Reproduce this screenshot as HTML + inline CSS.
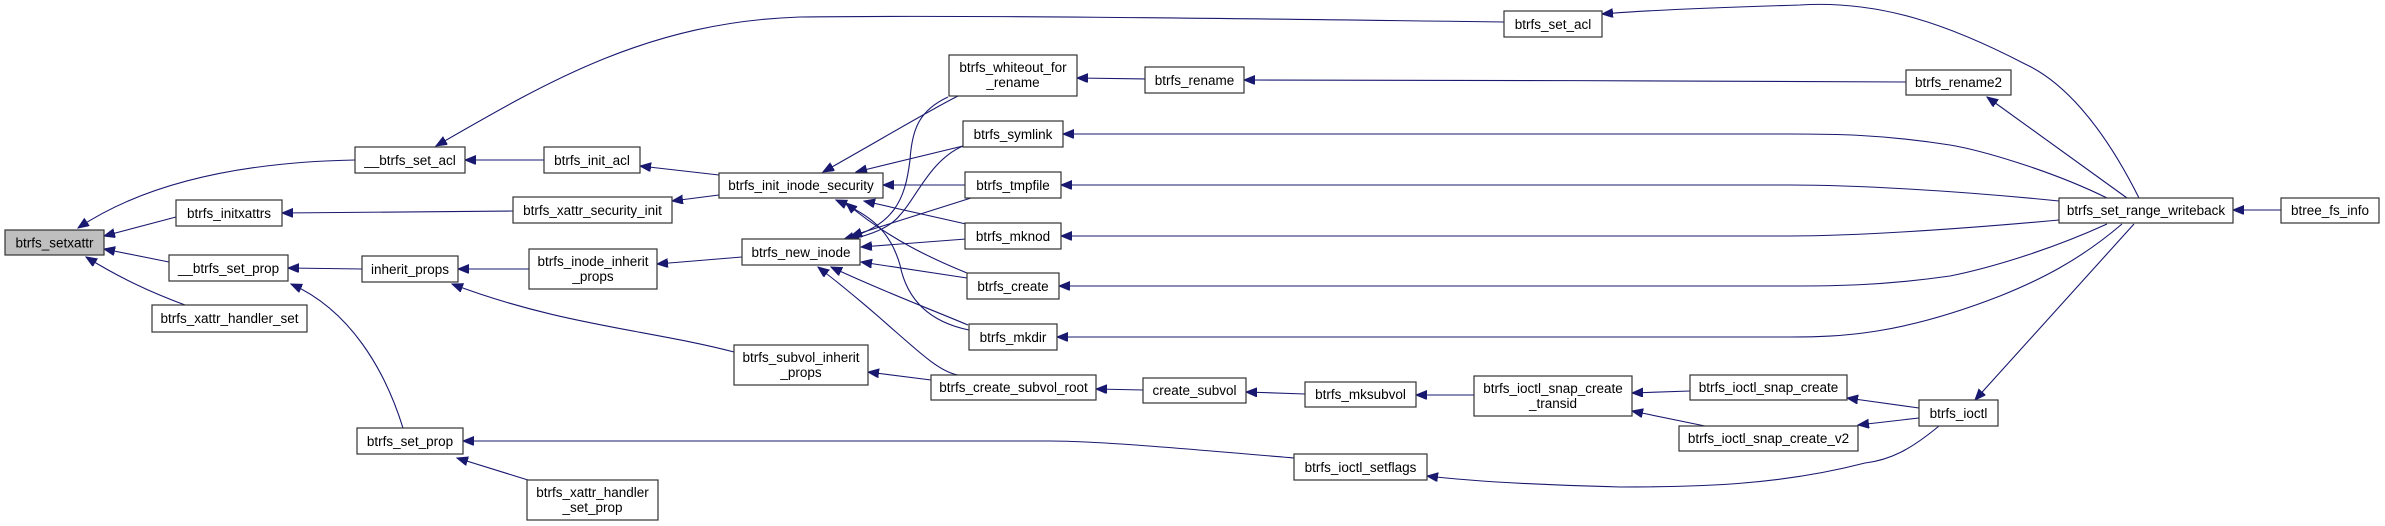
<!DOCTYPE html>
<html><head><meta charset="utf-8"><style>
html,body{margin:0;padding:0;background:#fff;}
svg{display:block;}
text{font-family:"Liberation Sans",sans-serif;font-size:13.5px;fill:#000;text-anchor:middle;}
.n{fill:#fff;stroke:#333;stroke-width:1.2;}
.e{fill:none;stroke:#191970;stroke-width:1.1;marker-end:url(#a);}
</style></head><body>
<svg width="2385" height="526" viewBox="0 0 2385 526" xmlns="http://www.w3.org/2000/svg">
<defs><marker id="a" markerUnits="userSpaceOnUse" markerWidth="12" markerHeight="10" refX="11" refY="4.5" orient="auto"><path d="M0,0 L11,4.5 L0,9 z" fill="#191970" stroke="#191970"/></marker></defs>
<g>
<path class="e" d="M355,160 C250,162 150,180 78,228"/>
<path class="e" d="M176,217 L104,236"/>
<path class="e" d="M169,262 L104,249"/>
<path class="e" d="M185,305 C150,292 120,278 86,257"/>
<path class="e" d="M544,160 L465,160"/>
<path class="e" d="M1504,22 C1200,18 950,15 800,17 C650,22 550,80 436,146"/>
<path class="e" d="M513,211 L282,213"/>
<path class="e" d="M719,175 L640,166"/>
<path class="e" d="M719,195 L672,201"/>
<path class="e" d="M362,269 L288,268"/>
<path class="e" d="M403,428 C385,370 350,310 291,284"/>
<path class="e" d="M529,269 L458,269"/>
<path class="e" d="M734,352 C650,330 560,325 452,284"/>
<path class="e" d="M742,257 L657,264"/>
<path class="e" d="M931,380 L868,372"/>
<path class="e" d="M958,375 C930,370 900,330 818,267"/>
<path class="e" d="M958,96 C930,110 880,140 823,172"/>
<path class="e" d="M948,97 C920,110 912,128 910,160 C905,200 895,225 843,240"/>
<path class="e" d="M963,146 L856,172"/>
<path class="e" d="M963,146 C930,160 915,200 900,215 C890,228 870,235 848,240"/>
<path class="e" d="M965,185 L883,185"/>
<path class="e" d="M971,198 L851,236"/>
<path class="e" d="M966,224 L864,201"/>
<path class="e" d="M966,239 L861,247"/>
<path class="e" d="M967,273 C935,260 890,240 846,203"/>
<path class="e" d="M967,278 L861,262"/>
<path class="e" d="M969,330 C920,320 905,290 900,265 C890,230 870,215 836,200"/>
<path class="e" d="M968,325 C920,305 880,290 831,267"/>
<path class="e" d="M1145,79 L1077,78"/>
<path class="e" d="M1906,82 C1700,81 1450,80 1244,80"/>
<path class="e" d="M2139,198 C2100,120 2060,80 2025,64 C1950,25 1880,0 1800,5 C1730,7 1650,10 1602,14"/>
<path class="e" d="M2127,198 L1987,97"/>
<path class="e" d="M2107,198 C2050,170 1980,150 1950,145 C1880,134 1830,134 1790,134 L1063,134"/>
<path class="e" d="M2059,201 C1950,190 1850,185 1790,185 L1061,185"/>
<path class="e" d="M2059,220 C1950,230 1850,236 1790,236 L1061,236"/>
<path class="e" d="M2107,224 C2050,250 1990,268 1950,276 C1880,286 1830,286 1790,286 L1059,286"/>
<path class="e" d="M2122,224 C2080,260 2040,280 2000,296 C1900,335 1840,337 1790,337 L1057,337"/>
<path class="e" d="M2134,224 L1975,400"/>
<path class="e" d="M2281,210 L2233,210"/>
<path class="e" d="M1143,390 L1096,389"/>
<path class="e" d="M1305,394 L1246,392"/>
<path class="e" d="M1474,395 L1416,395"/>
<path class="e" d="M1690,391 L1632,393"/>
<path class="e" d="M1705,426 L1632,411"/>
<path class="e" d="M1919,408 L1847,398"/>
<path class="e" d="M1919,418 L1858,425"/>
<path class="e" d="M1939,426 C1910,450 1890,460 1865,463 C1780,485 1700,487 1620,487 C1540,485 1470,481 1427,476"/>
<path class="e" d="M1294,458 C1200,450 1100,441 1050,441 L463,441"/>
<path class="e" d="M528,480 L457,458"/>
</g>
<g>
<rect x="5" y="230" width="99" height="25" fill="#bfbfbf" stroke="#333" stroke-width="1.2"/><text x="54.5" y="247.5">btrfs_setxattr</text>
<rect class="n" x="355" y="147" width="110" height="26"/><text x="410" y="165">__btrfs_set_acl</text>
<rect class="n" x="544" y="147" width="96" height="26"/><text x="592" y="165">btrfs_init_acl</text>
<rect class="n" x="719" y="173" width="164" height="25"/><text x="801" y="190">btrfs_init_inode_security</text>
<rect class="n" x="176" y="200" width="106" height="26"/><text x="229" y="218">btrfs_initxattrs</text>
<rect class="n" x="513" y="197" width="159" height="26"/><text x="592.5" y="215">btrfs_xattr_security_init</text>
<rect class="n" x="169" y="255" width="119" height="26"/><text x="228.5" y="273">__btrfs_set_prop</text>
<rect class="n" x="152" y="305" width="155" height="27"/><text x="229.5" y="323">btrfs_xattr_handler_set</text>
<rect class="n" x="362" y="256" width="96" height="26"/><text x="410" y="274">inherit_props</text>
<rect class="n" x="529" y="249" width="128" height="40"/><text x="593" y="266">btrfs_inode_inherit</text><text x="593" y="281">_props</text>
<rect class="n" x="742" y="239" width="118" height="26"/><text x="801" y="257">btrfs_new_inode</text>
<rect class="n" x="734" y="345" width="134" height="40"/><text x="801" y="362">btrfs_subvol_inherit</text><text x="801" y="377">_props</text>
<rect class="n" x="357" y="428" width="106" height="26"/><text x="410" y="446">btrfs_set_prop</text>
<rect class="n" x="527" y="480" width="131" height="40"/><text x="592.5" y="497">btrfs_xattr_handler</text><text x="592.5" y="512">_set_prop</text>
<rect class="n" x="1504" y="11" width="98" height="26"/><text x="1553" y="29">btrfs_set_acl</text>
<rect class="n" x="949" y="55" width="128" height="41"/><text x="1013" y="72">btrfs_whiteout_for</text><text x="1013" y="87">_rename</text>
<rect class="n" x="1145" y="67" width="99" height="26"/><text x="1194.5" y="85">btrfs_rename</text>
<rect class="n" x="963" y="121" width="100" height="26"/><text x="1013" y="139">btrfs_symlink</text>
<rect class="n" x="965" y="172" width="96" height="26"/><text x="1013" y="190">btrfs_tmpfile</text>
<rect class="n" x="965" y="223" width="96" height="26"/><text x="1013" y="241">btrfs_mknod</text>
<rect class="n" x="967" y="273" width="92" height="26"/><text x="1013" y="291">btrfs_create</text>
<rect class="n" x="969" y="324" width="88" height="26"/><text x="1013" y="342">btrfs_mkdir</text>
<rect class="n" x="931" y="375" width="165" height="25"/><text x="1013.5" y="392">btrfs_create_subvol_root</text>
<rect class="n" x="1143" y="378" width="103" height="25"/><text x="1194.5" y="395">create_subvol</text>
<rect class="n" x="1305" y="382" width="111" height="25"/><text x="1360.5" y="399">btrfs_mksubvol</text>
<rect class="n" x="1474" y="376" width="158" height="40"/><text x="1553" y="393">btrfs_ioctl_snap_create</text><text x="1553" y="408">_transid</text>
<rect class="n" x="1294" y="454" width="133" height="26"/><text x="1360.5" y="472">btrfs_ioctl_setflags</text>
<rect class="n" x="1906" y="70" width="105" height="25"/><text x="1958.5" y="87">btrfs_rename2</text>
<rect class="n" x="2059" y="198" width="174" height="25"/><text x="2146" y="215">btrfs_set_range_writeback</text>
<rect class="n" x="2281" y="198" width="98" height="25"/><text x="2330" y="215">btree_fs_info</text>
<rect class="n" x="1690" y="375" width="157" height="25"/><text x="1768.5" y="392">btrfs_ioctl_snap_create</text>
<rect class="n" x="1679" y="426" width="179" height="25"/><text x="1768.5" y="443">btrfs_ioctl_snap_create_v2</text>
<rect class="n" x="1919" y="400" width="79" height="26"/><text x="1958.5" y="418">btrfs_ioctl</text>
</g>
</svg>
</body></html>
